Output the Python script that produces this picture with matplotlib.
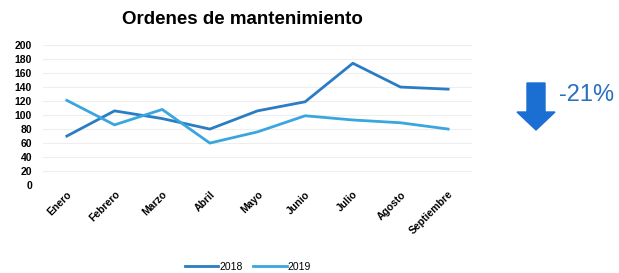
import matplotlib
matplotlib.use("Agg")
from matplotlib import pyplot as plt
from matplotlib.patches import Polygon

plt.rcParams['font.family'] = ['Liberation Sans', 'DejaVu Sans']

meses = ["Enero", "Febrero", "Marzo", "Abril", "Mayo", "Junio", "Julio", "Agosto", "Septiembre"]
ordenes_2018 = [70, 106, 95, 80, 106, 119, 174, 140, 137]
ordenes_2019 = [121, 86, 108, 60, 76, 99, 93, 89, 80]
y_ticks = list(range(0, 201, 20))
variacion = "-21%"

color_2018 = "#2a7cc4"
color_2019 = "#3aa6de"


def main():
    W, H = 619, 273
    fig = plt.figure(figsize=(6.19, 2.73), dpi=100)
    ax = fig.add_axes([0.0695, 0.322, 0.693, 0.513])
    x = range(len(meses))
    ax.plot(x, ordenes_2018, color=color_2018, lw=2, label="2018")
    ax.plot(x, ordenes_2019, color=color_2019, lw=2, label="2019")
    ax.set_xlim(-0.5, len(meses) - 0.5)
    ax.set_ylim(0, 200)
    ax.set_yticks(y_ticks)
    ax.set_yticklabels([str(v) for v in y_ticks], fontsize=7.5, fontweight='bold')
    ax.set_xticks(list(x))
    ax.set_xticklabels(meses, rotation=45, ha='right', rotation_mode='anchor',
                       fontsize=7.5, fontweight='bold')
    ax.tick_params(axis='x', length=0, pad=3)
    ax.tick_params(axis='y', length=0, pad=8)
    ax.grid(axis='y', color='#eeeeee', lw=0.8)
    for s in ax.spines.values():
        s.set_visible(False)
    fig.text(242 / W, 1 - 20 / H, "Ordenes de mantenimiento", fontsize=13.5,
             fontweight='bold', ha='center', va='center')
    fig.legend(loc='center', bbox_to_anchor=(248 / W, 1 - 267 / H), ncol=2, fontsize=7.5,
               frameon=False, handlelength=3.2, columnspacing=1.0, handletextpad=0.1)

    # flecha de variacion
    pts = [(527, 83), (545, 83), (545, 112), (555, 112), (536, 130), (517, 112), (527, 112)]
    flecha = Polygon([(px / W, 1 - py / H) for px, py in pts], closed=True,
                     transform=fig.transFigure, color="#1b6fd2")
    fig.patches.append(flecha)
    fig.text(587 / W, 1 - 95 / H, variacion, fontsize=17, color="#2a6fc0",
             ha='center', va='center')
    fig.savefig("out.png", dpi=100)


if __name__ == '__main__':
    main()
